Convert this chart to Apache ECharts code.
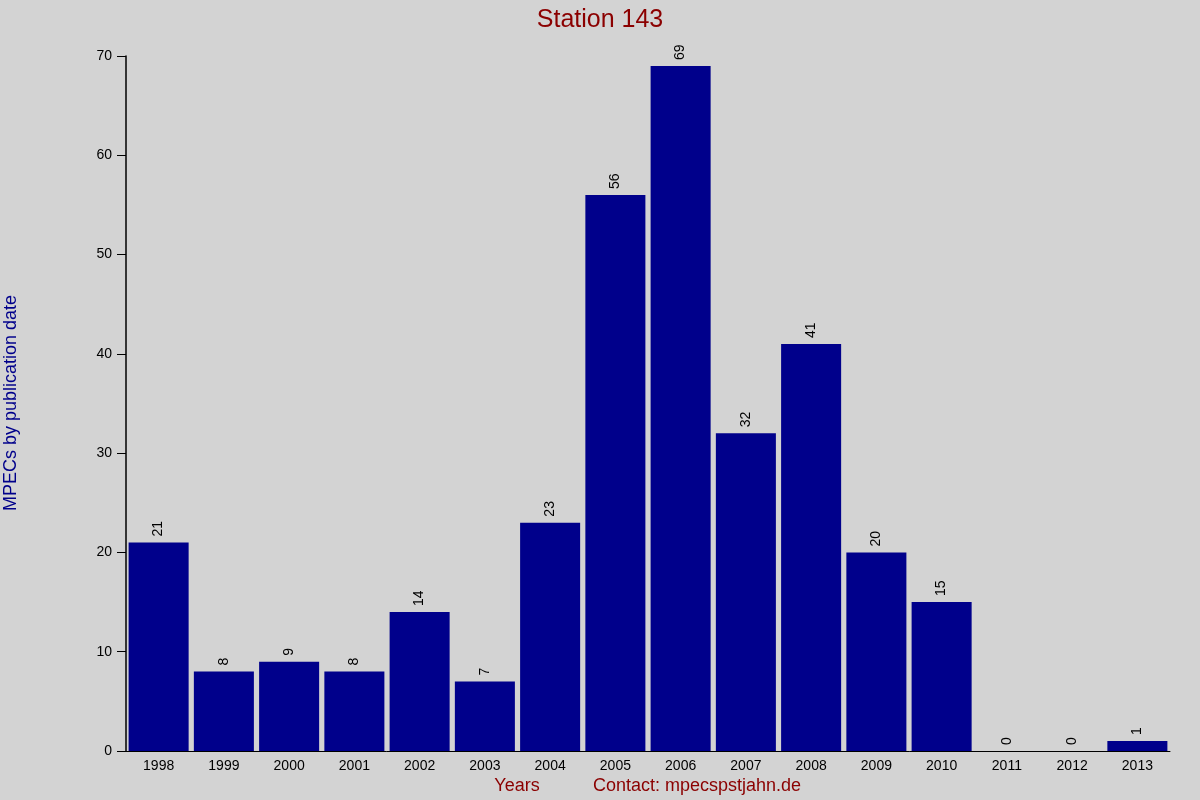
<!DOCTYPE html>
<html>
<head>
<meta charset="utf-8">
<script src="https://cdn.jsdelivr.net/npm/echarts@6/dist/echarts.min.js"></script>
<style>
  html, body { margin: 0; padding: 0; background: #d3d3d3; }
  #chart { width: 1200px; height: 800px; }
</style>
</head>
<body>
<div id="chart"></div>
<script>
// data
const years = ['1998', '1999', '2000', '2001', '2002', '2003', '2004', '2005',
               '2006', '2007', '2008', '2009', '2010', '2011', '2012', '2013'];
const counts = [21, 8, 9, 8, 14, 7, 23, 56, 69, 32, 41, 20, 15, 0, 0, 1];

const chart = echarts.init(document.getElementById('chart'));

const font = 'Liberation Sans, Arial, sans-serif';

chart.setOption({
    backgroundColor: '#d3d3d3',
    animation: false,
    title: {
        text: 'Station 143',
        left: 'center',
        top: 3,
        textStyle: { color: '#8b0000', fontSize: 25, fontWeight: 'normal', fontFamily: font }
    },
    grid: { left: 126, right: 30, top: 56, bottom: 49 },
    xAxis: {
        type: 'category',
        data: years,
        axisLine: { lineStyle: { color: '#000', width: 1 } },
        axisTick: { show: false },
        axisLabel: { color: '#000', fontSize: 14, fontFamily: font, margin: 8 }
    },
    yAxis: {
        type: 'value',
        min: 0,
        max: 70,
        interval: 10,
        axisLine: { show: true, lineStyle: { color: '#000', width: 1.5 } },
        axisTick: { show: true, length: 9, lineStyle: { color: '#000' } },
        axisLabel: { color: '#000', fontSize: 14, fontFamily: font, margin: 14 },
        splitLine: { show: false }
    },
    series: [{
        type: 'bar',
        data: counts,
        barCategoryGap: '8%',
        itemStyle: { color: '#00008b' },
        label: {
            show: true,
            position: 'top',
            rotate: 90,
            align: 'left',
            verticalAlign: 'middle',
            distance: 6,
            color: '#000',
            fontSize: 14,
            fontFamily: font
        }
    }],
    graphic: [
        {
            type: 'text',
            x: 11, y: 403,
            rotation: Math.PI / 2,
            style: {
                text: 'MPECs by publication date',
                fill: '#00008b',
                font: '18px ' + font,
                align: 'center',
                verticalAlign: 'middle'
            }
        },
        {
            type: 'text',
            x: 517, y: 786,
            style: { text: 'Years', fill: '#8b0000', font: '18px ' + font, align: 'center', verticalAlign: 'middle' }
        },
        {
            type: 'text',
            x: 697, y: 786,
            style: { text: 'Contact: mpecspstjahn.de', fill: '#8b0000', font: '18px ' + font, align: 'center', verticalAlign: 'middle' }
        }
    ]
});
</script>
</body>
</html>
